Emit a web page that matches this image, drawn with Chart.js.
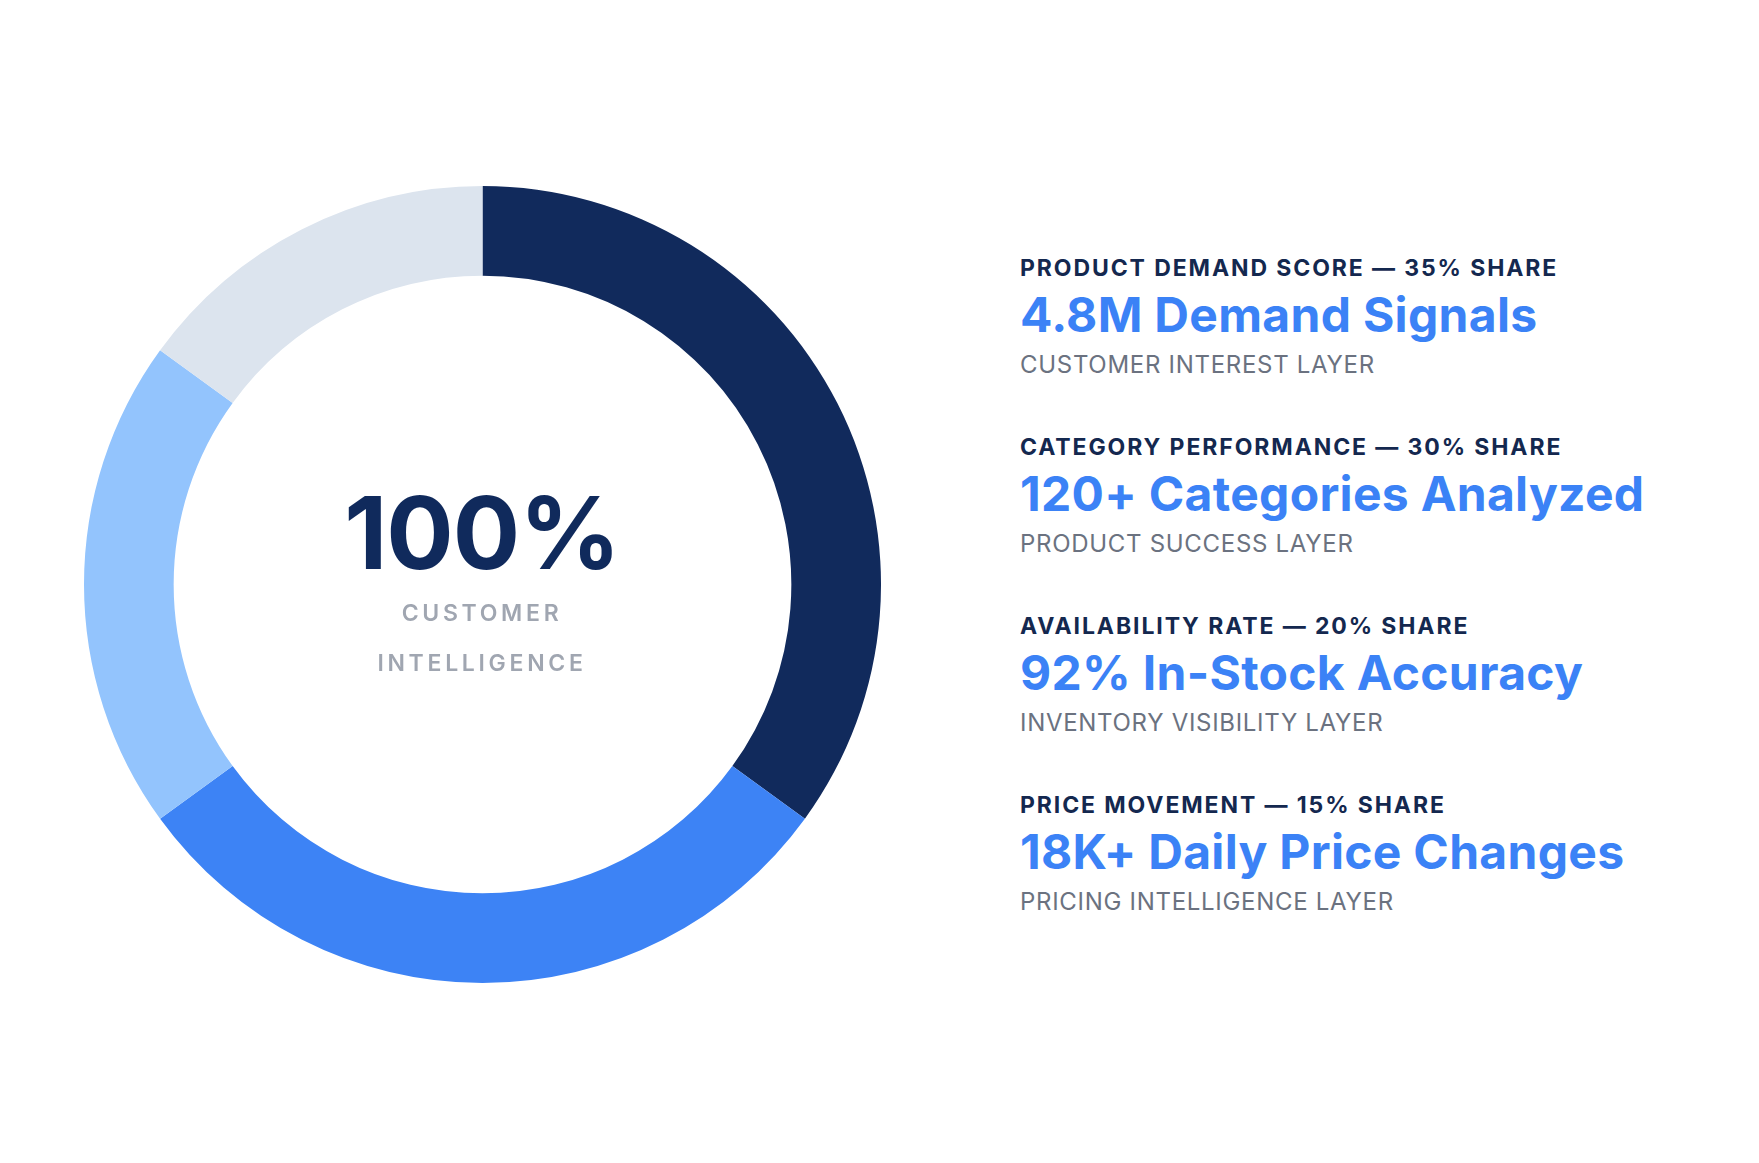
<!DOCTYPE html>
<html>
<head>
<meta charset="utf-8">
<script src="https://cdn.jsdelivr.net/npm/chart.js@4.4.1/dist/chart.umd.min.js"></script>
<style>
  html, body { margin: 0; padding: 0; background: #ffffff; }
  body { width: 1759px; height: 1163px; position: relative; overflow: hidden; font-family: Inter, "Noto Sans", sans-serif; }
  #donutWrap { position: absolute; left: 84px; top: 186px; width: 797px; height: 797px; }
  #center { position: absolute; left: 282px; top: 478px; width: 400px; text-align: center; }
  #center .big { font-size: 100px; font-weight: 700; color: #102a5c; line-height: 110px; letter-spacing: -1px; }
  #center .small { font-size: 23px; font-weight: 600; color: #a0a6b1; letter-spacing: 3.7px; line-height: 50px; width: 240px; margin: 0 auto; }
  #legend { position: absolute; left: 1020px; top: 250px; }
  .item { height: 179px; }
  .item .head { font-size: 23px; font-weight: 700; color: #14284f; letter-spacing: 1.9px; line-height: 36px; }
  .item .value { font-size: 48px; font-weight: 700; color: #3b82f6; line-height: 58px; letter-spacing: 0.3px; }
  .item .layer { font-size: 24px; font-weight: 400; color: #6b7280; line-height: 34px; letter-spacing: 0.7px; margin-top: 4px; }
</style>
</head>
<body>
<div id="donutWrap"><canvas id="shareChart"></canvas></div>
<div id="center">
  <div class="big">100%</div>
  <div class="small">CUSTOMER INTELLIGENCE</div>
</div>
<div id="legend"></div>
<script>
var metricNames = ['PRODUCT DEMAND SCORE', 'CATEGORY PERFORMANCE', 'AVAILABILITY RATE', 'PRICE MOVEMENT'];
var shareValues = [35, 30, 20, 15];
var headlineValues = ['4.8M Demand Signals', '120+ Categories Analyzed', '92% In-Stock Accuracy', '18K+ Daily Price Changes'];
var layerNames = ['CUSTOMER INTEREST LAYER', 'PRODUCT SUCCESS LAYER', 'INVENTORY VISIBILITY LAYER', 'PRICING INTELLIGENCE LAYER'];
var sliceColors = ['#112a5c', '#3d83f5', '#93c4fd', '#dce4ee'];

var legend = document.getElementById('legend');
for (var i = 0; i < metricNames.length; i++) {
  var item = document.createElement('div');
  item.className = 'item';
  item.innerHTML = '<div class="head">' + metricNames[i] + ' \u2014 ' + shareValues[i] + '% SHARE</div>' +
    '<div class="value">' + headlineValues[i] + '</div>' +
    '<div class="layer">' + layerNames[i] + '</div>';
  legend.appendChild(item);
}

var ctx = document.getElementById('shareChart').getContext('2d');
var shareChart = new Chart(ctx, {
  type: 'doughnut',
  data: {
    labels: metricNames,
    datasets: [{
      data: shareValues,
      backgroundColor: sliceColors,
      borderWidth: 0,
      hoverOffset: 0
    }]
  },
  options: {
    responsive: true,
    maintainAspectRatio: false,
    animation: false,
    cutout: '77.5%',
    layout: { padding: 0 },
    plugins: {
      legend: { display: false },
      tooltip: { enabled: false }
    }
  }
});
</script>
</body>
</html>
